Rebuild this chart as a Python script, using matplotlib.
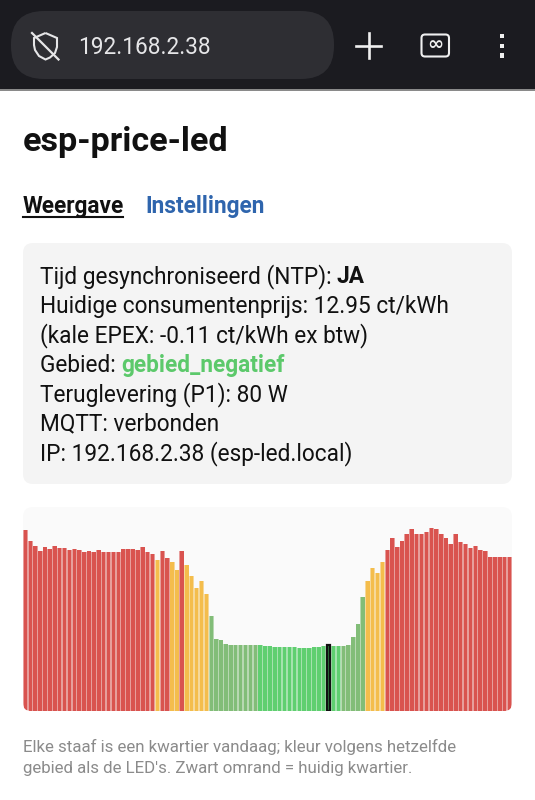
import numpy as np
import matplotlib
matplotlib.use("Agg")
import matplotlib.pyplot as plt
from matplotlib.patches import FancyBboxPatch, Rectangle, PathPatch
from matplotlib.path import Path

plt.rcParams['font.family'] = ['Roboto', 'DejaVu Sans']

# bar heights, one per quarter
heights = [180.7, 170, 164.7, 160.4, 164.4, 161.7, 165, 163, 162.7, 161.4,
           162, 160.7, 159.4, 159.7, 159.4, 160.7, 159, 158.7, 158.7, 159.4,
           161.7, 162, 162, 160.7, 163.7, 159, 157.4, 150.7, 159.7, 153,
           149, 140.7, 159.7, 145.7, 134.7, 123, 129.7, 117.4, 94.7, 71.7,
           71.4, 67.4, 66, 66, 66, 66, 66, 66, 65.7, 65.4,
           65, 64.4, 64, 64, 64, 63.7, 63.4, 63.4, 63.4, 64,
           64.4, 64.7, 66, 65, 65, 65.4, 66, 73.7, 87.4, 114,
           129.7, 143.4, 138.4, 149, 161, 172.7, 164.4, 170, 177.4, 182.4,
           177, 177, 179.4, 183.4, 182.4, 177, 172.7, 167, 177.4, 169,
           166.7, 162.7, 165, 161.4, 160, 154, 154, 154, 154, 154]
# 0 red, 1 yellow, 2 dull green, 3 bright green
zones = [0] * 27 + [1, 0, 0, 1, 1, 0] + [1] * 5 + [2] * 10 + [3] * 17 + [2] * 5 + [1] * 4 + [0] * 26
zone_colors = ['#d9534f', '#f4bd4c', '#82bd78', '#5fcf70']
current = 62

status_lines = [
    [("Tijd gesynchroniseerd (NTP): ", 'normal', '#111111'), ("JA", 'bold', '#111111')],
    [("Huidige consumentenprijs: 12.95 ct/kWh", 'normal', '#111111')],
    [("(kale EPEX: -0.11 ct/kWh ex btw)", 'normal', '#111111')],
    [("Gebied: ", 'normal', '#111111'), ("gebied_negatief", 'bold', '#5cc96b')],
    [("Teruglevering (P1): 80 W", 'normal', '#111111')],
    [("MQTT: verbonden", 'normal', '#111111')],
    [("IP: 192.168.2.38 (esp-led.local)", 'normal', '#111111')],
]
footer = ["Elke staaf is een kwartier vandaag; kleur volgens hetzelfde",
          "gebied als de LED's. Zwart omrand = huidig kwartier."]

W, H = 535, 800
fig = plt.figure(figsize=(W / 100, H / 100), dpi=100, facecolor='white')
page = fig.add_axes([0, 0, 1, 1])
page.set_xlim(0, W)
page.set_ylim(H, 0)
page.axis('off')


def rbox(x0, y0, x1, y1, r, ax=page, **kw):
    p = FancyBboxPatch((x0 + r, y0 + r), x1 - x0 - 2 * r, y1 - y0 - 2 * r,
                       boxstyle=f"round,pad={r},rounding_size={r}", **kw)
    ax.add_patch(p)
    return p


# browser bar
page.add_patch(Rectangle((0, 0), W, 89, color='#1b1b20', lw=0))
page.add_patch(Rectangle((0, 89), W, 1.5, color='#8a8a8a', lw=0))
rbox(11, 11, 334, 79, 33, color='#2e2e33', lw=0)
page.text(78.5, 47, "192.168.2.38", fontsize=16.3, color='#e6e6e8', va='center', ha='left')

shield = Path([(45.5, 33), (57, 38), (57, 47), (55, 53), (50, 57.5), (45.5, 59.5),
               (39, 56), (35, 50), (34, 45), (34, 38), (45.5, 33)])
page.add_patch(PathPatch(shield, fc='none', ec='#e6e6e8', lw=1.5))
page.plot([32, 58.5], [33, 59.5], color='#e6e6e8', lw=1.6)

page.plot([356, 381], [45.5, 45.5], color='#f0f0f0', lw=1.9)
page.plot([368.5, 368.5], [33, 58], color='#f0f0f0', lw=1.9)
rbox(421.5, 34.5, 449, 56.5, 3.5, fc='none', ec='#f0f0f0', lw=1.5)
page.text(435, 45, "\u221e", fontsize=14, color='#f0f0f0', ha='center', va='center',
          family=['DejaVu Sans'], fontweight='bold')
for y in [36, 46, 55.5]:
    page.add_patch(Rectangle((500, y - 2.3), 4.2, 4.6, color='#f0f0f0', lw=0))

# heading and tabs
page.text(23, 141.5, "esp-price-led", fontsize=24.6, fontweight='bold', color='#111111', va='center')
page.text(23, 206.5, "Weergave", fontsize=16.3, fontweight='bold', color='#111111', va='center')
page.plot([23, 123], [216.5, 216.5], color='#111111', lw=1.5)
page.text(145.5, 206.5, "Instellingen", fontsize=16.3, fontweight='bold', color='#2f65ad', va='center')

# status box
rbox(23, 243, 512, 484, 10, color='#f4f4f4', lw=0)
r = fig.canvas.get_renderer()
y = 276.5
for line in status_lines:
    x = 39.5
    for txt, weight, col in line:
        t = page.text(x, y, txt, fontsize=16.3, fontweight=weight, color=col, va='center', ha='left')
        x = t.get_window_extent(r).x1
    y += 29.55

# chart
rbox(23, 507, 512, 711, 10, color='#fafafa', lw=0)
clip = rbox(23, 440, 512, 711, 8, fc='none', lw=0)
ax = fig.add_axes([23 / W, 1 - 711 / H, 489 / W, 204 / H])
ax.patch.set_alpha(0)
ax.axis('off')
idx = np.arange(len(heights))
bar_colors = [zone_colors[z] for z in zones]
ax.set_xlim(-0.5, len(heights) - 0.5)
ax.set_ylim(0, 204)
# pale band under each bar, the screenshot is blurred so the gaps pick up the colour
under = ax.bar(idx, heights, width=1.0, color=bar_colors, alpha=0.55, linewidth=0)
bars = ax.bar(idx, heights, width=0.72, color=bar_colors, linewidth=0)
for b in list(under) + list(bars):
    b.set_clip_path(clip)
ax.bar(current, heights[current], width=0.7, fc='#2f7d40', ec='#101010', lw=1.6, zorder=3)

# footer
for i, s in enumerate(footer):
    page.text(23, 746.5 + i * 22, s, fontsize=12.2, color='#8b8b8b', va='center')

fig.savefig("out.png", dpi=100)
